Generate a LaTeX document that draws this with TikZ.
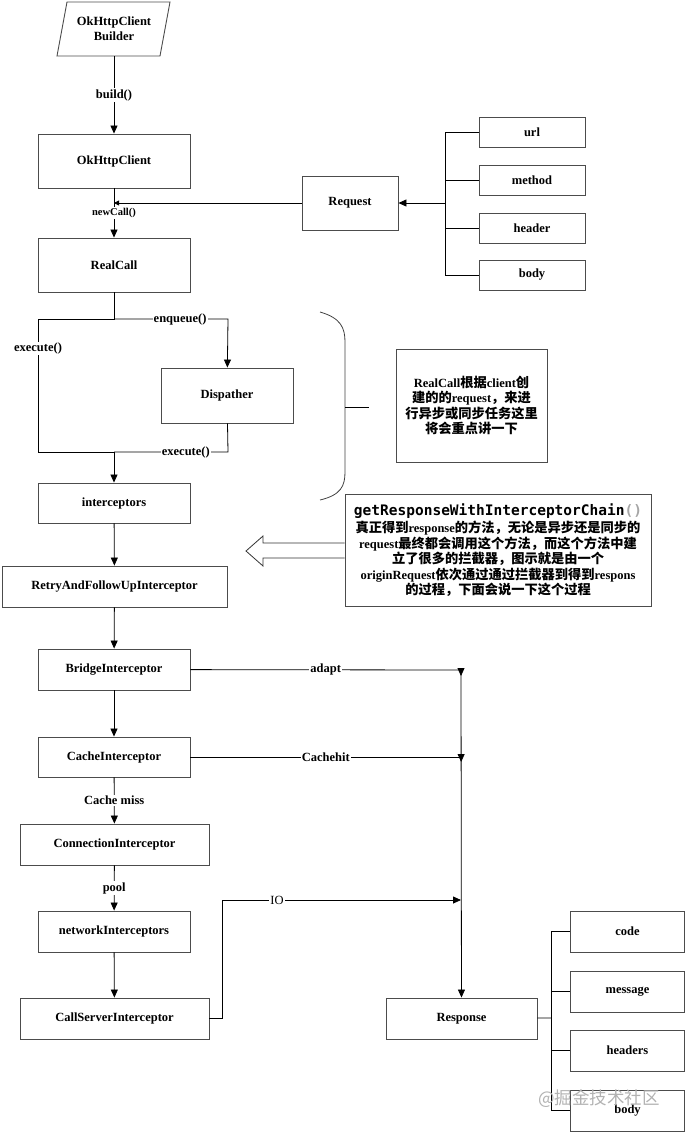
\documentclass[tikz,border=0pt]{standalone}
\usepackage{fontspec}
\usepackage{xcolor}
\usepackage{tikz}
\usetikzlibrary{arrows.meta,decorations.markings}
\newfontfamily\latfont{Liberation Serif}
\newfontfamily\cjkfont{Noto Sans CJK SC}[Scale=1.06]
\newfontfamily\codefont{DejaVu Sans Mono}
\newcommand{\zh}[1]{{\cjkfont #1}}

\begin{document}
\begin{tikzpicture}[x=1pt,y=-1pt,
  box/.style={draw=black!70,line width=0.9pt,minimum width=152pt,minimum height=41pt,inner sep=0pt,
    font=\latfont\bfseries\fontsize{12.5}{14}\selectfont},
  field/.style={box,minimum width=106pt,minimum height=30pt},
  note/.style={box,align=center,font=\latfont\bfseries\fontsize{12.5}{15.5}\selectfont},
  lbl/.style={fill=white,inner sep=1pt,font=\latfont\bfseries\fontsize{12.5}{14}\selectfont},
  line/.style={line width=0.8pt},
  arr/.style={line,-{Triangle[length=8pt,width=7pt]}},
  arrsmall/.style={line,-{Triangle[length=5pt,width=5pt]}},
  downtips/.style={postaction={decorate},decoration={markings,
    mark=at position 6pt with {\arrow{Triangle[length=8pt,width=7pt]}},
    mark=at position 92pt with {\arrow{Triangle[length=8pt,width=7pt]}}}}
]
  \useasboundingbox (0,0) rectangle (685,1133);

  % Nodes
  \draw[draw=black!70,line width=0.9pt] (67,2) -- (170,2) -- (160,56) -- (57,56) -- cycle;
  \node[box,draw=none,minimum width=103pt,minimum height=54pt,align=center] (builder) at (114,29) {OkHttpClient\\[1pt]Builder};
  \node[box,minimum height=54pt] (client)   at (114,161) {OkHttpClient};
  \node[box,minimum height=54pt] (realcall) at (114,265) {RealCall};
  \node[box,minimum width=96pt,minimum height=54pt] (request) at (350,203) {Request};
  \node[field] (url)    at (532,132) {url};
  \node[field] (method) at (532,180) {method};
  \node[field] (header) at (532,228) {header};
  \node[field] (body)   at (532,275) {body};
  \node[box,minimum width=132pt,minimum height=55pt] (dispatcher) at (227,395.5) {Dispather};
  \node[box,minimum height=40pt] (interceptors) at (114,503) {interceptors};
  \node[box,minimum width=225pt] (retry) at (114.5,586.5) {RetryAndFollowUpInterceptor};
  \node[box] (bridge)  at (114,669.5) {BridgeInterceptor};
  \node[box,minimum height=40pt] (cache) at (114,757) {CacheInterceptor};
  \node[box,minimum width=189pt] (conn) at (114.5,844.5) {ConnectionInterceptor};
  \node[box] (network) at (114,931.5) {networkInterceptors};
  \node[box,minimum width=189pt] (callserver) at (114.5,1018.5) {CallServerInterceptor};
  \node[box,minimum width=151pt] (response) at (461.5,1018.5) {Response};
  \node[box,minimum width=114pt] (code)    at (627.5,931.5) {code};
  \node[box,minimum width=114pt] (message) at (627.5,991.5) {message};
  \node[box,minimum width=114pt] (headers) at (627.5,1050.5) {headers};
  \node[box,minimum width=114pt] (rbody)   at (627.5,1110.5) {body};

  % Notes
  \node[note,minimum width=151pt,minimum height=113pt] (note1) at (471.5,405.5)
    {RealCall\zh{根据}client\zh{创}\\\zh{建的的}request\zh{，来进}\\\zh{行异步或同步任务这里}\\\zh{将会重点讲一下}};
  \node[note,minimum width=306pt,minimum height=112pt] (note2) at (498,550)
    {{\codefont\fontsize{14.5}{16}\selectfont getResponseWithInterceptorChain\textcolor{black!35}{()}}\\[2pt]
     \zh{真正得到}response\zh{的方法，无论是异步还是同步的}\\
     request\zh{最终都会调用这个方法，而这个方法中建}\\
     \zh{立了很多的拦截器，图示就是由一个}\\
     originRequest\zh{依次通过通过拦截器到得到}respons\\
     \zh{的过程，下面会说一下这个过程}};

  % Brace and hollow arrow
  \draw[line,black!75] (320,312) .. controls (341,318) and (345,328) .. (345,342) -- (345,472)
    .. controls (345,486) and (341,495) .. (320,500);
  \draw[line] (345,407) -- (369,407);
  \draw[line,black!80] (note2.west |- 0,543) -- (263,543) -- (263,536) -- (246,551) -- (263,566)
    -- (263,558) -- (note2.west |- 0,558);

  % Connectors
  \coordinate (join)  at (114,203);
  \coordinate (reqbus) at (445,203);
  \coordinate (split) at (114,319);
  \coordinate (tl) at (38,319);
  \coordinate (bl) at (38,452);
  \coordinate (tr) at (228,319);
  \coordinate (br) at (228,452);
  \coordinate (merge) at (114,452);
  \coordinate (adapt) at (461,670);
  \coordinate (hit) at (461,757);
  \coordinate (ioturn) at (222,900);
  \coordinate (io) at (461,900);
  \coordinate (respbus) at (551,1018);

  \draw[arr] (builder) -- node[lbl] {build()} (client);
  \draw[arr] (client) -- node[lbl,font=\latfont\bfseries\fontsize{10.5}{12}\selectfont] {newCall()} (realcall);
  \draw[arrsmall] (request) -- (join);
  \draw[arr] (reqbus) -- (request);
  \foreach \f in {url,method,header,body}
    \draw[line] (\f.west) -| (reqbus);

  \draw[line] (realcall) -- (split) -- (tl) -- node[lbl,pos=0.22] {execute()} (bl) -- (merge);
  \draw[arr] (split) -- node[lbl,pos=0.58] {enqueue()} (tr) -- (dispatcher);
  \draw[line] (dispatcher) -- (br) -- node[lbl,pos=0.37] {execute()} (merge);
  \draw[arr] (merge) -- (interceptors);

  \foreach \a/\b in {interceptors/retry,retry/bridge,bridge/cache,network/callserver}
    \draw[arr] (\a) -- (\b);
  \draw[arr] (cache) -- node[lbl] {Cache miss} (conn);
  \draw[arr] (conn) -- node[lbl] {pool} (network);

  \draw[line] (bridge) -- node[lbl] {adapt} (adapt);
  \draw[line] (cache) -- node[lbl] {Cachehit} (hit);
  \draw[arr] (callserver) -| (ioturn) -- node[lbl,pos=0.23,font=\latfont\fontsize{12.5}{14}\selectfont] {IO} (io);
  \draw[arr,downtips] (adapt) -- (response);

  \draw[line] (response) -- (respbus);
  \foreach \f in {code,message,headers,rbody}
    \draw[line] (\f.west) -| (respbus);

  % Watermark
  \node[font=\cjkfont\fontsize{16.5}{17}\selectfont,text=black!30] (mark) at (599,1099) {@掘金技术社区};
\end{tikzpicture}
\end{document}
